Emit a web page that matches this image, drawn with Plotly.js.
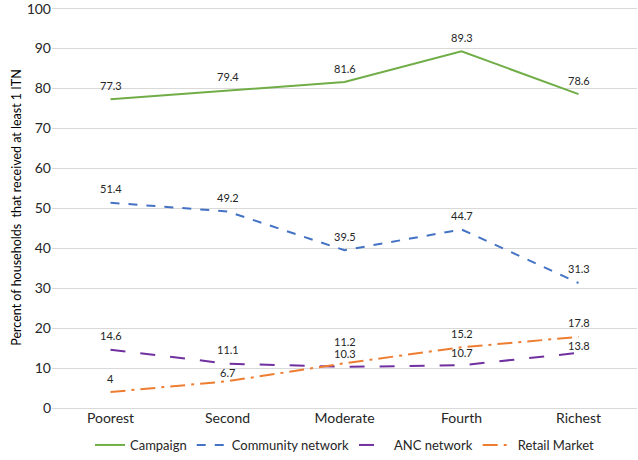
<!DOCTYPE html>
<html><head><meta charset="utf-8">
<script src="https://cdn.plot.ly/plotly-3.0.1.min.js"></script>
<style>html,body{margin:0;padding:0;background:#fff}#chart{width:638px;height:460px}</style>
</head><body><div id="chart"></div>
<script>
var categories = ["Poorest", "Second", "Moderate", "Fourth", "Richest"];
var campaign = [77.3, 79.4, 81.6, 89.3, 78.6];
var community = [51.4, 49.2, 39.5, 44.7, 31.3];
var anc = [14.6, 11.1, 10.3, 10.7, 13.8];
var retail = [4, 6.7, 11.2, 15.2, 17.8];
var yTicks = [0, 10, 20, 30, 40, 50, 60, 70, 80, 90, 100];

var FONT = "Lato, 'Open Sans', sans-serif";
var series = [
  {name: "Campaign", y: campaign, color: "#70AD47", dash: "solid", shifts: [14,14,14,14,14]},
  {name: "Community network", y: community, color: "#4472C4", dash: "dash", shifts: [14,14,14,14,14]},
  {name: "ANC network", y: anc, color: "#7030A0", dash: "longdash", shifts: [14,14,13,13,7]},
  {name: "Retail Market", y: retail, color: "#ED7D31", dash: "longdashdot", shifts: [14,9,22,14,14]}
];

var traces = series.map(function(s){
  return {x: categories, y: s.y, name: s.name, type: "scatter", mode: "lines",
    line: {color: s.color, width: 2, dash: s.dash}, hoverinfo: "skip"};
});

var annotations = [];
series.forEach(function(s){
  s.y.forEach(function(v, i){
    annotations.push({x: categories[i], y: v, text: String(v), showarrow: false,
      yshift: s.shifts[i], font: {family: FONT, size: 11, color: "#262626"}});
  });
});

var layout = {
  width: 638, height: 460,
  margin: {l: 52, r: 1, t: 7, b: 52},
  paper_bgcolor: "#fff", plot_bgcolor: "#fff",
  showlegend: true,
  legend: {orientation: "h", x: 0.5, xanchor: "center", yref: "container", y: -0.02, yanchor: "bottom",
    font: {family: FONT, size: 13, color: "#262626"}, itemwidth: 30, tracegroupgap: 0},
  xaxis: {type: "category", range: [-0.5, 4.5], showgrid: false, zeroline: false, showline: false,
    tickfont: {family: FONT, size: 14, color: "#262626"}, ticks: "", automargin: false},
  yaxis: {range: [0, 100.4], tickvals: yTicks, showgrid: true, gridcolor: "#d9d9d9", gridwidth: 1,
    zeroline: true, zerolinecolor: "#d9d9d9", showline: false, ticks: "", ticklabeloverflow: "allow",
    tickfont: {family: FONT, size: 14, color: "#262626"}, automargin: false,
    title: {text: "Percent of households  that received at least 1 ITN", standoff: 2,
      font: {family: FONT, size: 12.5, color: "#000"}}},
  annotations: annotations
};
Plotly.newPlot("chart", traces, layout, {displayModeBar: false, staticPlot: true});
</script></body></html>
